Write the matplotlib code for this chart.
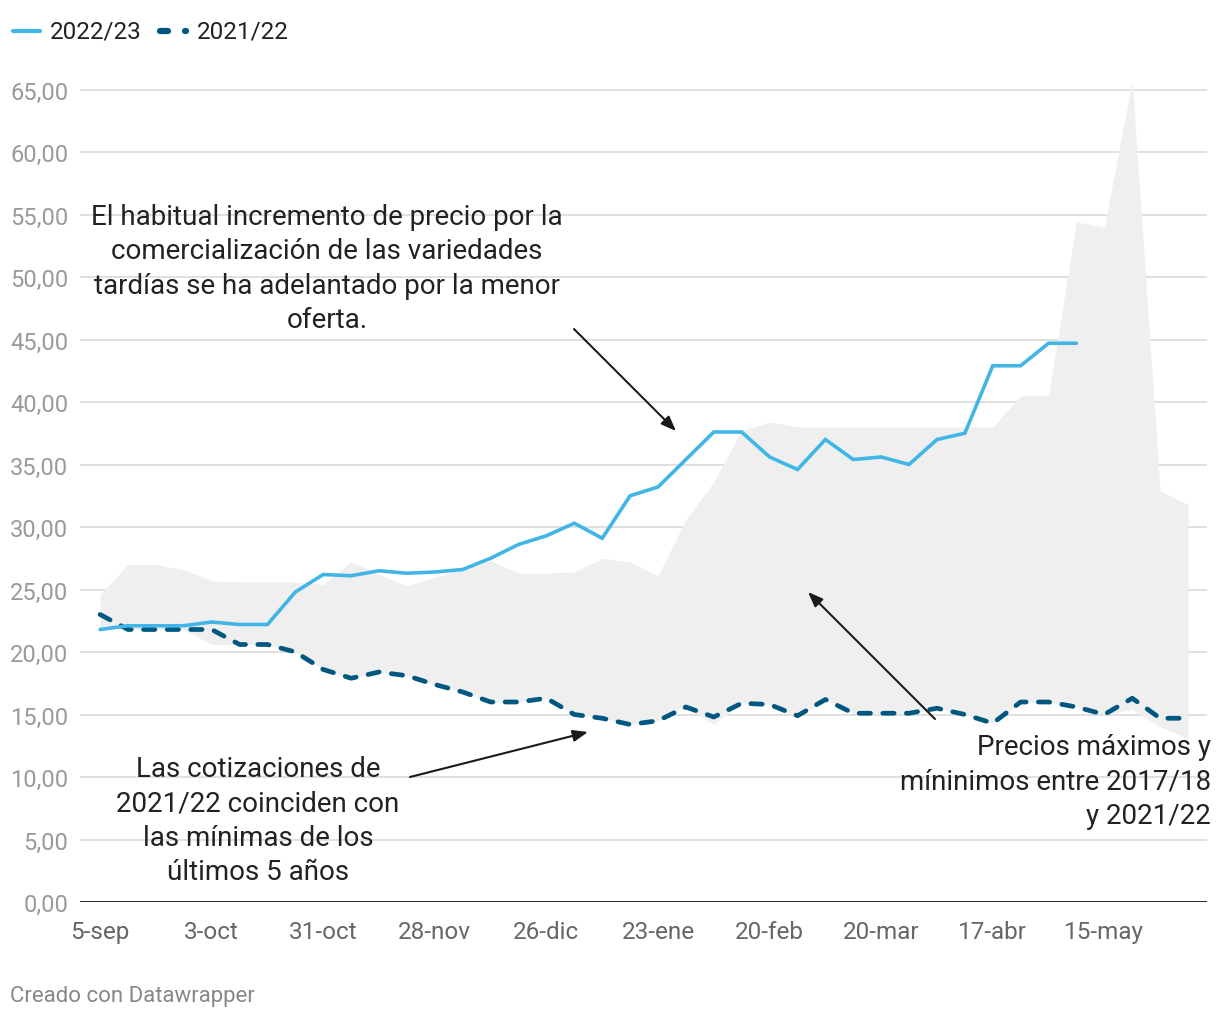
import matplotlib
matplotlib.use("Agg")
import matplotlib.pyplot as plt
from matplotlib.lines import Line2D

plt.rcParams['font.family'] = ['Roboto', 'DejaVu Sans']

# ---- data ----
tick_labels = ["5-sep", "3-oct", "31-oct", "28-nov", "26-dic", "23-ene",
               "20-feb", "20-mar", "17-abr", "15-may"]

s2022_23 = [21.8, 22.1, 22.1, 22.1, 22.4, 22.2, 22.2, 24.8, 26.2, 26.1,
            26.5, 26.3, 26.4, 26.6, 27.5, 28.6, 29.3, 30.3, 29.1, 32.5,
            33.2, 35.4, 37.6, 37.6, 35.6, 34.6, 37.0, 35.4, 35.6, 35.0,
            37.0, 37.5, 42.9, 42.9, 44.7, 44.7]

s2021_22 = [23.0, 21.8, 21.8, 21.8, 21.8, 20.6, 20.6, 20.0, 18.6, 17.9,
            18.4, 18.1, 17.4, 16.8, 16.0, 16.0, 16.3, 15.0, 14.7, 14.2,
            14.5, 15.6, 14.8, 15.9, 15.8, 14.9, 16.2, 15.1, 15.1, 15.1,
            15.5, 15.0, 14.3, 16.0, 16.0, 15.6, 15.0, 16.3, 14.7, 14.7]

band_max = [24.6, 27.0, 27.0, 26.6, 25.7, 25.6, 25.6, 25.6, 25.4, 27.2,
            26.2, 25.3, 26.0, 26.6, 27.3, 26.3, 26.3, 26.4, 27.5, 27.2,
            26.1, 30.6, 33.6, 37.7, 38.4, 38.0, 38.0, 38.0, 38.0, 38.0,
            38.0, 38.0, 38.0, 40.5, 40.5, 54.4, 54.0, 65.7, 32.9, 31.8]

band_min = [22.0, 21.8, 21.8, 21.8, 20.6, 20.6, 20.6, 20.0, 18.6, 17.9,
            18.4, 18.1, 17.4, 16.8, 16.0, 16.0, 16.3, 15.0, 14.7, 14.2,
            14.5, 15.6, 14.2, 15.9, 15.8, 14.8, 16.2, 15.1, 15.1, 15.1,
            15.5, 15.0, 14.3, 16.0, 16.0, 15.6, 15.0, 15.4, 14.0, 13.1]

yticks = [0, 5, 10, 15, 20, 25, 30, 35, 40, 45, 50, 55, 60, 65]

# ---- figure ----
W, H = 1220, 1020
fig = plt.figure(figsize=(W / 100, H / 100), dpi=100)
L, R, T, B = 80, 1207, 75, 903
ax = fig.add_axes([L / W, (H - B) / H, (R - L) / W, (B - T) / H])

weeks = list(range(len(band_max)))
ax.fill_between(weeks, band_min, band_max, color='#efefef', lw=0, zorder=1)

blue = '#41b6e6'
dark = '#00577f'
ax.plot(range(len(s2022_23)), s2022_23, color=blue, lw=2.6,
        solid_capstyle='round', solid_joinstyle='miter', zorder=4)
ax.plot(range(len(s2021_22)), s2021_22, color=dark, lw=3.4,
        linestyle=(0, (2.4, 2.6)), dash_capstyle='round', zorder=3)

ax.set_xlim(-0.72, 39.68)
ax.set_ylim(0, (B - T) / 12.5)

ax.set_yticks(yticks)
ax.set_yticklabels([f"{v:.2f}".replace('.', ',') for v in yticks])
ax.set_xticks(list(range(0, 4 * len(tick_labels), 4)))
ax.set_xticklabels(tick_labels)

for v in yticks[1:]:
    ax.axhline(v, color='#e0e0e0', lw=1.4, zorder=0.5)
ax.axhline(0, color='#1a1a1a', lw=2, zorder=5)

for s in ax.spines.values():
    s.set_visible(False)
ax.tick_params(axis='y', length=0, pad=8.5, labelsize=17, labelcolor='#9a9a9a')
ax.tick_params(axis='x', length=0, pad=13, labelsize=17.5, labelcolor='#666666')
ax.set_facecolor('none')

# ---- legend (manual) ----
def fx(px):
    return px / W

def fy(py):
    return 1 - py / H

fig.add_artist(Line2D([fx(13), fx(40)], [fy(32), fy(32)], color=blue, lw=3,
                      solid_capstyle='round'))
fig.text(fx(50), fy(32), "2022/23", fontsize=17.5, color='#222222',
         ha='left', va='center')
fig.add_artist(Line2D([fx(160), fx(168)], [fy(32), fy(32)], color=dark, lw=4.5,
                      solid_capstyle='round'))
fig.add_artist(Line2D([fx(185), fx(185.5)], [fy(32), fy(32)], color=dark, lw=4.5,
                      solid_capstyle='round'))
fig.text(fx(197), fy(32), "2021/22", fontsize=17.5, color='#222222',
         ha='left', va='center')

# ---- annotations ----
txt_kw = dict(fontsize=20, color='#222222', linespacing=1.36)
fig.text(fx(327), fy(269), "El habitual incremento de precio por la\n"
         "comercialización de las variedades\n"
         "tardías se ha adelantado por la menor\noferta.",
         ha='center', va='center', multialignment='center', **txt_kw)
fig.text(fx(258), fy(821), "Las cotizaciones de\n2021/22 coinciden con\n"
         "las mínimas de los\núltimos 5 años",
         ha='center', va='center', multialignment='center', **txt_kw)
fig.text(fx(1211), fy(782), "Precios máximos y\nmíninimos entre 2017/18\ny 2021/22",
         ha='right', va='center', multialignment='right', **txt_kw)

def d(px, py):
    return ((px - 100) / 27.9, (903 - py) / 12.5)

arrow_kw = dict(arrowstyle='-|>,head_length=0.9,head_width=0.35', color='#1a1a1a',
                lw=1.5, shrinkA=0, shrinkB=0)
ax.annotate("", xy=d(676, 432), xytext=d(574, 330), arrowprops=arrow_kw, zorder=6)
ax.annotate("", xy=d(588, 733), xytext=d(410, 778), arrowprops=arrow_kw, zorder=6)
ax.annotate("", xy=d(808, 593), xytext=d(935, 720), arrowprops=arrow_kw, zorder=6)

fig.text(fx(10), fy(997), "Creado con Datawrapper", fontsize=16, color='#888888',
         ha='left', va='center')

fig.savefig("out.png", dpi=100, facecolor='white')
